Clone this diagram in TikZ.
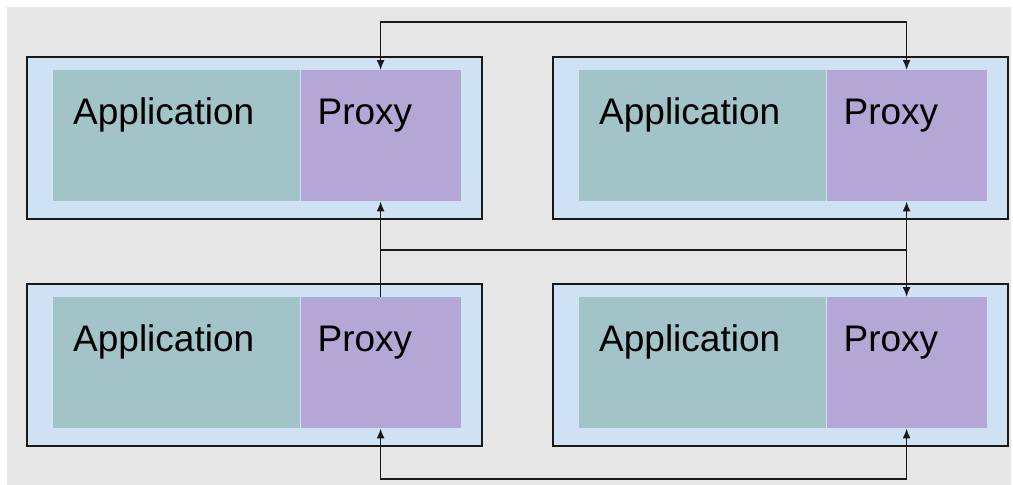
\documentclass[tikz,border=0pt]{standalone}
\usepackage{fontspec}
\setmainfont{Liberation Sans}
\usetikzlibrary{positioning,arrows.meta}

\definecolor{bggray}{HTML}{E6E6E6}
\definecolor{hostblue}{HTML}{CFE2F3}
\definecolor{appteal}{HTML}{A2C4C9}
\definecolor{proxypurple}{HTML}{B4A7D6}

\tikzset{
  host/.style={draw=black!90, line width=1.5pt, fill=hostblue, minimum width=455pt,
    minimum height=162pt, anchor=north west, inner sep=0pt},
  app/.style={fill=appteal, minimum width=247pt, minimum height=131pt, inner sep=0pt},
  proxy/.style={fill=proxypurple, minimum width=160pt, minimum height=131pt, inner sep=0pt},
  tag/.style={inner sep=0pt, font=\fontsize{37pt}{40pt}\selectfont},
  link/.style={line width=1.5pt, draw=black!90},
  tip/.tip={Latex[length=10pt,width=8pt]},
}

\begin{document}
\begin{tikzpicture}[x=1pt,y=-1pt]
    \useasboundingbox (0,0) rectangle (1013,485);
    \fill[bggray] (7,7) rectangle (1011,485);
    % hosts
    \node[host] (hostA) at (26,56) {};
    \node[host] (hostB) at (552,56) {};
    \node[host] (hostC) at (26,283) {};
    \node[host] (hostD) at (552,283) {};
    \foreach \h in {A,B,C,D} {
      \node[app, below right=14pt and 27pt of host\h.north west,
        label={[tag, anchor=north west, xshift=20pt, yshift=-27pt]north west:Application}] (app\h) {};
      \node[proxy, right=0pt of app\h,
        label={[tag, anchor=north west, xshift=17pt, yshift=-29pt]north west:Proxy}] (proxy\h) {};
    }
    % links
    \coordinate (busTop) at (0,22);
    \coordinate (busMid) at (0,250);
    \coordinate (busBot) at (0,479);
    \draw[link, tip-tip] (proxyA.north) -- (proxyA.north |- busTop) -| (proxyB.north);
    \draw[link, -tip] (proxyC.north) -- (proxyA.south);
    \draw[link] (proxyC.north |- busMid) -- (proxyB.south |- busMid);
    \draw[link, -tip] (proxyB.south |- busMid) -- (proxyB.south);
    \draw[link, -tip] (proxyB.south |- busMid) -- (proxyD.north);
    \draw[link, tip-tip] (proxyC.south) -- (proxyC.south |- busBot) -| (proxyD.south);
\end{tikzpicture}
\end{document}
